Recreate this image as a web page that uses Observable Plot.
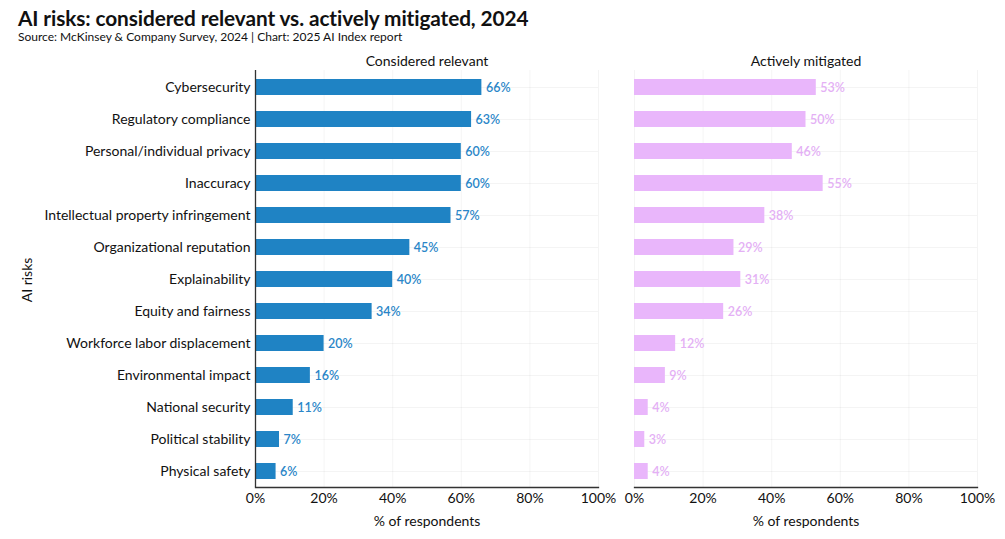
<!DOCTYPE html>
<html>
<head>
<meta charset="utf-8">
<script src="https://cdn.jsdelivr.net/npm/d3@7"></script>
<script src="https://cdn.jsdelivr.net/npm/@observablehq/plot@0.6"></script>
<style>
  html, body { margin: 0; padding: 0; background: #fff; }
  body { width: 1005px; height: 539px; overflow: hidden; font-family: Lato, "Noto Sans", sans-serif; color: #111; }
  #title { position: absolute; left: 18px; top: 5px; font-size: 20.8px; font-weight: 700; letter-spacing: -0.1px; }
  #subtitle { position: absolute; left: 18px; top: 29px; font-size: 12px; }
  #chart { position: absolute; left: 0; top: 45px; }
</style>
</head>
<body>
<div id="title">AI risks: considered relevant vs. actively mitigated, 2024</div>
<div id="subtitle">Source: McKinsey &amp; Company Survey, 2024 | Chart: 2025 AI Index report</div>
<div id="chart"></div>
<script>
const risks = [
  "Cybersecurity",
  "Regulatory compliance",
  "Personal/individual privacy",
  "Inaccuracy",
  "Intellectual property infringement",
  "Organizational reputation",
  "Explainability",
  "Equity and fairness",
  "Workforce labor displacement",
  "Environmental impact",
  "National security",
  "Political stability",
  "Physical safety"
];
const seriesNames = ["Considered relevant", "Actively mitigated"];
const consideredRelevant = [66, 63, 60, 60, 57, 45, 40, 34, 20, 16, 11, 7, 6];
const activelyMitigated = [53, 50, 46, 55, 38, 29, 31, 26, 12, 9, 4, 3, 4];
const xTicks = [0, 20, 40, 60, 80, 100];
const colors = ["#1f83c4", "#e9b6fb"];
const labelColors = ["#2a86c8", "#e4b0f5"];

const data = [];
risks.forEach((r, i) => {
  data.push({risk: r, series: seriesNames[0], value: consideredRelevant[i]});
  data.push({risk: r, series: seriesNames[1], value: activelyMitigated[i]});
});

const chart = Plot.plot({
  width: 1005,
  height: 494,
  marginTop: 25,
  marginBottom: 52,
  marginLeft: 255,
  marginRight: 28,
  style: {fontFamily: "Lato, 'Noto Sans', sans-serif", fontSize: "14px", color: "#111"},
  fx: {domain: seriesNames, padding: 0.095, paddingOuter: 0, label: null},
  x: {domain: [0, 100], label: null},
  y: {domain: risks, paddingInner: 0.5, paddingOuter: 0.15, label: null},
  color: {domain: seriesNames, range: colors},
  marks: [
    Plot.gridX(xTicks, {stroke: "#000", strokeOpacity: 0.045}),
    Plot.gridY({stroke: "#000", strokeOpacity: 0.045}),
    Plot.axisFx({anchor: "top", tickSize: 0, tickPadding: 5, fontSize: 14, label: null}),
    Plot.barX(data, {x: "value", y: "risk", fx: "series", fill: "series"}),
    Plot.text(data, {
      x: "value", y: "risk", fx: "series", text: d => d.value + "%",
      textAnchor: "start", dx: 4, fontSize: 12.5, fontWeight: 600,
      fill: d => labelColors[seriesNames.indexOf(d.series)]
    }),
    Plot.frame({anchor: "bottom", stroke: "#333", strokeWidth: 1.3}),
    Plot.ruleX([{series: seriesNames[0], v: 0}], {x: "v", fx: "series", stroke: "#333", strokeWidth: 1.3}),
    Plot.axisX({ticks: xTicks, tickSize: 0, tickPadding: 6, tickFormat: d => d + "%", fontSize: 14, label: null}),
    Plot.axisY({tickSize: 0, tickPadding: 5, fontSize: 14, label: null,
      facetAnchor: "left", fx: seriesNames[0]}),
    Plot.text([{series: seriesNames[0]}, {series: seriesNames[1]}], {
      fx: "series", frameAnchor: "bottom", dy: 38, text: () => "% of respondents", fontSize: 14, fill: "#111"
    })
  ]
});

document.getElementById("chart").appendChild(chart);

// y axis title
const svg = d3.select(chart);
svg.append("text")
  .attr("transform", "translate(28," + (280 - 45) + ") rotate(-90)")
  .attr("text-anchor", "middle")
  .attr("dominant-baseline", "middle")
  .attr("font-size", 14)
  .attr("fill", "#111")
  .text("AI risks");
</script>
</body>
</html>
